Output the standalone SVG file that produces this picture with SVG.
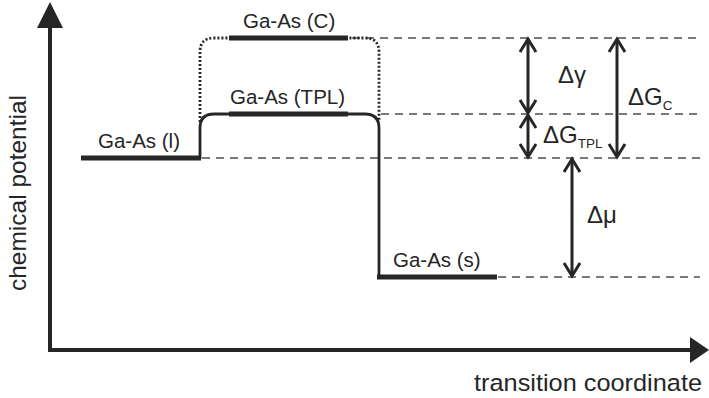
<svg xmlns="http://www.w3.org/2000/svg" width="709" height="398" viewBox="0 0 709 398">
  <style>
    .axis { stroke: #262626; stroke-width: 4; fill: none; }
    .head { fill: #262626; }
    .path { stroke: #262626; stroke-width: 2.8; fill: none; }
    .dot { stroke: #262626; stroke-width: 2.8; fill: none; stroke-dasharray: 2 2; }
    .bar { stroke: #262626; stroke-width: 5; fill: none; }
    .ref { stroke: #4d4d4d; stroke-width: 1.5; fill: none; stroke-dasharray: 8 6; }
    .dim { stroke: #262626; stroke-width: 3; fill: none; }
    .chev { stroke: #262626; stroke-width: 3; fill: none; stroke-linejoin: miter; }
    text { font-family: "Liberation Sans", Arial, sans-serif; fill: #262626; }
    .lbl { font-size: 20.5px; }
    .ax { font-size: 24.5px; }
    .sym { font-size: 24px; }
    .sub { font-size: 13.5px; }
  </style>

  <!-- reference levels -->
  <g id="reference-lines">
    <line class="ref" x1="352" y1="38" x2="700" y2="38"/>
    <line class="ref" x1="381" y1="114" x2="700" y2="114"/>
    <line class="ref" x1="202" y1="158" x2="700" y2="158"/>
    <line class="ref" x1="498" y1="277" x2="700" y2="277"/>
  </g>

  <!-- axes -->
  <g id="axes">
    <line class="axis" x1="50" y1="352" x2="50" y2="26"/>
    <polygon class="head" points="50,2 37,28 63,28"/>
    <line class="axis" x1="48" y1="350" x2="692" y2="350"/>
    <polygon class="head" points="709,350 690,337 690,363"/>
    <text class="ax" transform="translate(26,193) rotate(-90)" text-anchor="middle">chemical potential</text>
    <text class="ax" x="702" y="391" text-anchor="end" textLength="228" lengthAdjust="spacingAndGlyphs">transition coordinate</text>
  </g>

  <!-- connectors between states -->
  <g id="connectors">
    <path class="path" d="M200,159 V128 Q200,114 214,114 H365 Q379,114 379,128 V278"/>
    <path class="dot" d="M200,122 V52 Q200,38 214,38 H365 Q379,38 379,52 V122"/>
  </g>

  <g id="state-l">
    <line class="bar" x1="81" y1="158" x2="201" y2="158"/>
    <text class="lbl" x="98" y="148">Ga-As (l)</text>
  </g>
  <g id="state-tpl">
    <line class="bar" x1="229" y1="114" x2="348" y2="114"/>
    <text class="lbl" x="230" y="104">Ga-As (TPL)</text>
  </g>
  <g id="state-c">
    <line class="bar" x1="229" y1="38" x2="348" y2="38"/>
    <text class="lbl" x="243" y="28">Ga-As (C)</text>
  </g>
  <g id="state-s">
    <line class="bar" x1="377" y1="277" x2="497" y2="277"/>
    <text class="lbl" x="393" y="267">Ga-As (s)</text>
  </g>

  <!-- energy differences -->
  <g id="delta-gamma">
    <line class="dim" x1="528" y1="39" x2="528" y2="113"/>
    <polyline class="chev" points="520,52 528,39 536,52"/>
    <polyline class="chev" points="520,100 528,113 536,100"/>
    <text class="sym" x="558" y="83">Δγ</text>
  </g>
  <g id="delta-g-tpl">
    <line class="dim" x1="528" y1="115" x2="528" y2="157"/>
    <polyline class="chev" points="520,128 528,115 536,128"/>
    <polyline class="chev" points="520,144 528,157 536,144"/>
    <text class="sym" x="543" y="143">ΔG<tspan class="sub" dy="5">TPL</tspan></text>
  </g>
  <g id="delta-g-c">
    <line class="dim" x1="617" y1="39" x2="617" y2="157"/>
    <polyline class="chev" points="609,52 617,39 625,52"/>
    <polyline class="chev" points="609,144 617,157 625,144"/>
    <text class="sym" x="628" y="105">ΔG<tspan class="sub" dy="5">C</tspan></text>
  </g>
  <g id="delta-mu">
    <line class="dim" x1="572" y1="159" x2="572" y2="276"/>
    <polyline class="chev" points="564,172 572,159 580,172"/>
    <polyline class="chev" points="564,263 572,276 580,263"/>
    <text class="sym" x="587" y="223">Δμ</text>
  </g>
</svg>
